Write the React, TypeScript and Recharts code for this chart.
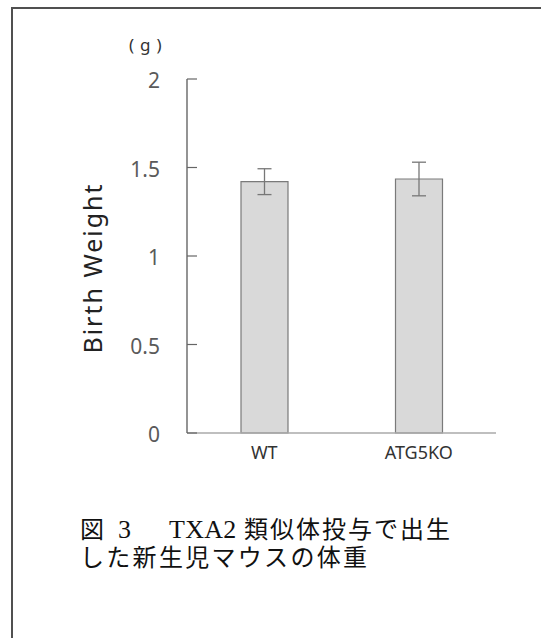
import React from 'react';
import { BarChart, Bar, XAxis, YAxis, ErrorBar, Label } from 'recharts';

const categories = ['WT', 'ATG5KO'];
const means = [1.42, 1.435];
const errors = [0.073, 0.095];
const yTicks = [0, 0.5, 1, 1.5, 2];

const data = categories.map((name, i) => ({ name, value: means[i], err: errors[i] }));

const YTick = (props: any) => {
  const { x, y, payload } = props;
  return (
    <g>
      <line x1={x} y1={y} x2={x + 10} y2={y} stroke="#666" strokeWidth={1.2} />
      <text x={x - 27} y={y} dy={9} textAnchor="end" fontSize={21} fill="#5a5a5a"
        fontFamily="'Noto Sans', 'Open Sans', sans-serif">
        {String(payload.value)}
      </text>
    </g>
  );
};

const XTick = (props: any) => {
  const { x, y, payload } = props;
  return (
    <text x={x} y={y} dy={18} textAnchor="middle" fontSize={18} fill="#333"
      fontFamily="'Noto Sans', 'Open Sans', sans-serif">
      {payload.value}
    </text>
  );
};

const YLabel = (props: any) => {
  const { viewBox } = props;
  const cx = 92;
  const cy = viewBox.y + viewBox.height / 2 + 12;
  return (
    <text x={cx} y={cy} transform={`rotate(-90 ${cx} ${cy})`} textAnchor="middle"
      dominantBaseline="central" fontSize={25} letterSpacing={2} fill="#222"
      fontFamily="'Noto Sans', 'Open Sans', sans-serif">
      Birth Weight
    </text>
  );
};

export default function App() {
  const cjk = "'Noto Sans CJK JP', sans-serif";
  const serif = "'Liberation Serif', serif";
  return (
    <div style={{ position: 'absolute', left: 0, top: 0, width: 541, height: 638, overflow: 'hidden', background: '#fff' }}>
      <div style={{ position: 'absolute', left: 11, top: 7, width: 620, height: 720, border: '2px solid #505050' }} />
      <div style={{ position: 'absolute', left: 0, top: 0 }}>
        <BarChart width={541} height={500} data={data}
          margin={{ top: 79, right: 45, left: 0, bottom: 0 }}>
          <XAxis dataKey="name" height={67} axisLine={{ stroke: '#aaa', strokeWidth: 1.5 }}
            tickLine={false} tick={<XTick />} interval={0} />
          <YAxis domain={[0, 2]} ticks={yTicks} width={187} tickSize={0} tickMargin={0}
            axisLine={{ stroke: '#5a5a5a', strokeWidth: 1.3 }} tick={<YTick />} interval={0}>
            <Label content={<YLabel />} />
          </YAxis>
          <Bar dataKey="value" barSize={47} fill="#d9d9d9" stroke="#7a7a7a" strokeWidth={1.2}
            isAnimationActive={false}>
            <ErrorBar dataKey="err" width={7} stroke="#777" strokeWidth={1.3} />
          </Bar>
        </BarChart>
      </div>
      <div style={{ position: 'absolute', left: 129, top: 33, fontSize: 17, color: '#333',
        fontFamily: "'Noto Sans', sans-serif", lineHeight: '24px', letterSpacing: 6, whiteSpace: 'pre' }}>
        (g)
      </div>
      <svg width={541} height={140} style={{ position: 'absolute', left: 0, top: 498 }}>
        <text fill="#111" fontFamily={cjk} fontSize={24}>
          <tspan x={80} y={40}>図</tspan>
          <tspan x={118} y={40} fontFamily={serif} fontSize={26}>3</tspan>
          <tspan x={169} y={40} fontFamily={serif} fontSize={26} letterSpacing={0.3}>TXA2</tspan>
          <tspan x={244} y={40} letterSpacing={2}>類似体投与で出生</tspan>
          <tspan x={80} y={68} letterSpacing={2.3}>した新生児マウスの体重</tspan>
        </text>
      </svg>
    </div>
  );
}
